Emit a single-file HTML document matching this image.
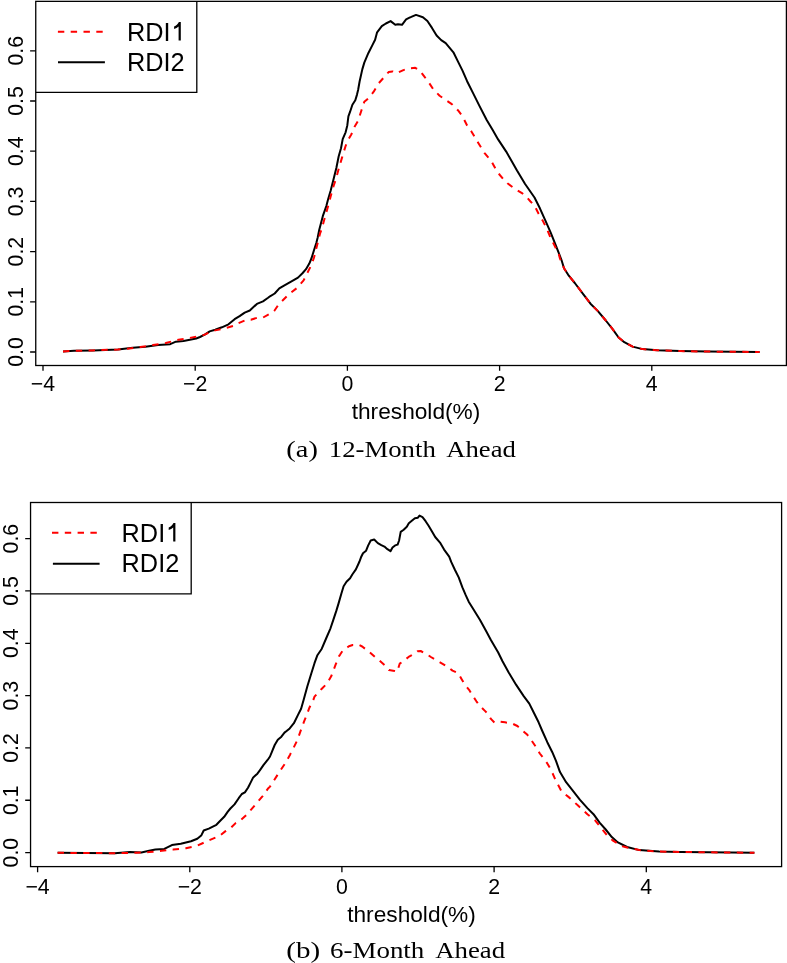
<!DOCTYPE html>
<html><head><meta charset="utf-8"><style>
html,body{margin:0;padding:0;background:#fff;width:787px;height:963px;overflow:hidden}
svg{display:block;will-change:transform}
text{font-family:"Liberation Sans",sans-serif;fill:#000}
.cap{font-family:"Liberation Serif",serif;white-space:pre}
.cb{fill:none;stroke:#000;stroke-width:2;stroke-linejoin:round;stroke-linecap:butt}
.cr{fill:none;stroke:#f00;stroke-width:2;stroke-linejoin:round;stroke-linecap:butt;stroke-dasharray:6.4 6.4}
</style></head><body>
<svg width="787" height="963" viewBox="0 0 787 963">
<!-- Plot 1 -->
<polyline class="cb" points="63.0,351.5 74.1,350.8 93.1,350.4 117.9,349.5 120.0,349.3 132.7,347.8 145.4,346.8 158.1,344.9 170.2,344.2 175.9,341.7 183.5,341.0 196.2,338.5 200.0,337.0 205.1,334.4 209.7,331.4 215.2,329.8 221.9,327.3 228.5,324.3 234.6,319.2 239.6,316.1 244.7,312.6 249.8,310.5 256.9,303.9 263.0,301.4 268.1,297.8 270.0,296.3 274.7,293.5 279.3,288.4 284.0,285.6 291.5,281.4 298.0,277.6 302.7,273.0 306.0,269.2 309.3,263.6 311.6,258.0 313.9,250.5 316.3,243.0 317.7,237.4 319.2,230.0 322.8,216.2 326.4,205.8 327.9,200.0 330.7,190.5 333.6,179.1 336.4,167.7 338.7,156.2 341.0,148.3 342.7,139.1 345.6,132.3 347.3,125.4 348.4,116.3 350.1,111.7 352.4,104.8 355.3,100.3 357.0,94.6 358.1,90.0 359.6,81.5 362.3,69.4 364.3,62.6 368.3,53.2 372.4,45.1 375.1,39.7 377.1,32.3 381.8,26.2 385.9,23.5 390.6,21.1 395.3,24.8 398.0,24.2 402.0,24.8 406.1,19.4 410.0,17.4 410.7,17.2 416.0,14.9 422.9,17.2 427.4,21.0 432.0,27.9 436.6,35.5 441.2,40.1 445.7,43.1 453.4,52.3 457.9,61.4 462.5,70.6 467.1,81.2 473.2,93.4 479.3,105.6 486.7,120.0 492.7,130.0 498.1,139.4 506.2,151.6 511.6,161.0 517.0,170.5 525.1,184.0 534.5,197.5 539.9,208.3 545.3,220.4 550.7,232.6 556.1,246.1 561.5,260.0 564.0,268.2 568.2,274.8 574.8,283.0 583.0,293.8 590.5,303.7 597.9,311.1 606.2,321.0 612.8,329.3 618.6,337.5 624.3,342.2 632.6,346.6 642.5,349.1 657.4,350.3 680.0,351.1 708.4,351.6 759.6,352.0"/>
<polyline class="cr" points="63.0,351.5 74.1,350.8 93.1,350.4 117.9,349.5 127.6,348.7 140.3,347.0 153.0,345.1 165.7,343.0 178.5,339.8 189.9,337.9 200.0,336.0 204.1,334.9 210.2,331.9 215.2,330.4 224.4,328.3 228.5,327.3 235.6,325.3 238.6,323.2 246.8,319.7 250.8,319.7 257.9,317.6 263.0,317.6 269.1,314.1 274.2,311.0 278.4,304.7 282.1,301.0 288.7,294.4 297.1,287.9 303.6,280.4 306.9,273.9 311.1,265.5 313.9,258.0 315.8,250.5 318.1,241.2 320.0,233.7 321.8,228.7 324.9,217.3 328.5,204.8 330.7,196.2 333.6,185.9 335.9,179.1 338.7,168.8 342.1,157.4 345.6,146.0 347.9,140.3 351.3,134.5 354.7,126.5 358.1,120.8 361.0,111.7 364.3,101.8 368.3,98.4 373.7,91.7 378.4,83.6 383.2,78.2 388.6,72.1 392.6,71.4 396.6,73.2 403.4,70.1 409.1,68.3 415.2,67.8 419.8,70.6 424.4,76.7 429.0,82.8 433.5,89.6 439.6,95.7 447.3,101.1 451.8,104.1 457.9,110.2 462.5,116.3 467.1,125.5 471.4,131.4 478.3,142.9 484.4,152.8 491.3,161.0 495.4,168.5 499.4,174.5 503.5,179.3 507.5,183.3 512.9,187.4 517.0,190.1 522.4,193.4 526.4,196.8 530.5,201.5 534.5,205.6 538.6,213.7 542.6,220.4 546.7,228.5 550.7,238.0 554.8,246.1 558.8,254.2 559.9,258.3 564.0,268.2 568.2,274.8 574.8,283.0 583.0,293.8 590.5,303.7 597.9,311.1 606.2,321.0 612.8,329.3 618.6,337.5 624.3,342.2 632.6,346.6 642.5,349.1 657.4,350.3 680.0,351.1 708.4,351.6 759.6,352.0"/>
<g fill="none" stroke="#000" stroke-width="1.3">
<rect x="35.75" y="1.35" width="750.65" height="364.15"/>
<path d="M43 365.5V370.8M195.2 365.5V370.8M347.4 365.5V370.8M499.6 365.5V370.8M651.8 365.5V370.8"/>
<path d="M30.1 352H35.75M30.1 301.8H35.75M30.1 251.6H35.75M30.1 201.4H35.75M30.1 151.2H35.75M30.1 101H35.75M30.1 50.8H35.75"/>
<path d="M35.75 92.3H196.8V1.35"/>
</g>
<g font-size="21.3" text-anchor="middle">
<text x="43" y="390.9">−4</text>
<text x="195.2" y="390.9">−2</text>
<text x="347.4" y="390.9">0</text>
<text x="499.6" y="390.9">2</text>
<text x="651.8" y="390.9">4</text>
<text x="416" y="418.8" font-size="22.7">threshold(%)</text>
</g>
<g font-size="21.3" text-anchor="middle">
<text transform="translate(23.4,352) rotate(-90)">0.0</text>
<text transform="translate(23.4,301.8) rotate(-90)">0.1</text>
<text transform="translate(23.4,251.6) rotate(-90)">0.2</text>
<text transform="translate(23.4,201.4) rotate(-90)">0.3</text>
<text transform="translate(23.4,151.2) rotate(-90)">0.4</text>
<text transform="translate(23.4,101) rotate(-90)">0.5</text>
<text transform="translate(23.4,50.8) rotate(-90)">0.6</text>
</g>
<path d="M57.9 31.7H104" class="cr"/>
<path d="M58 62.2H104.9" class="cb"/>
<text x="127" y="40.7" font-size="25.3">RDI</text>
<path id="one" d="M180.8 22.1V40.6H178.6V26.4C177.4 27.6 175.9 28.4 174.1 29V26.6C176.3 25.8 177.7 24.3 178.9 22.1Z"/>
<text x="127" y="70.7" font-size="25.3">RDI2</text>
<g class="cap" font-size="22.5">
<text class="cap" x="286.35" y="456.8" textLength="31.5" lengthAdjust="spacingAndGlyphs">(a)</text>
<text class="cap" x="328.75" y="456.8" textLength="107" lengthAdjust="spacingAndGlyphs">12-Month</text>
<text class="cap" x="446.24" y="456.8" textLength="69.58" lengthAdjust="spacingAndGlyphs">Ahead</text>
</g>

<!-- Plot 2 -->
<polyline class="cb" points="57.6,852.8 114.8,853.2 130.0,852.1 141.4,852.4 149.1,850.8 155.4,849.6 164.3,848.9 171.9,845.1 180.8,843.8 191.0,841.3 197.3,838.8 201.2,835.6 203.7,830.5 208.8,828.6 216.4,824.8 220.0,821.0 224.2,816.8 227.8,811.7 230.4,808.5 234.5,804.4 238.7,798.2 241.8,794.0 244.9,792.4 248.0,787.8 250.6,782.6 253.2,777.4 257.4,773.7 260.0,770.1 263.6,764.9 267.8,759.7 270.0,756.5 272.1,751.3 274.7,745.0 277.8,739.8 281.4,736.7 284.5,732.6 286.6,731.0 289.7,728.4 293.9,723.2 298.0,714.9 301.1,708.7 303.6,700.0 307.3,686.5 310.9,674.8 314.5,663.2 317.4,655.2 321.8,648.7 326.1,638.5 330.5,628.3 333.4,619.6 336.3,610.9 338.5,603.6 341.4,593.4 343.6,586.2 346.5,581.8 350.1,578.2 352.3,574.5 355.9,569.4 359.5,561.5 361.0,557.3 363.0,553.2 366.1,550.7 368.1,545.6 370.7,540.5 374.2,539.5 377.8,543.1 381.3,545.1 384.4,546.6 387.4,549.2 390.5,551.2 392.5,547.6 395.1,545.4 397.6,544.6 399.1,540.5 400.7,531.9 403.7,529.8 406.8,526.8 408.8,523.2 411.8,520.7 414.9,518.2 417.9,517.7 419.5,515.6 422.5,517.1 425.6,521.2 428.6,525.8 431.7,530.9 435.2,537.0 440.0,542.6 444.1,549.6 449.2,556.6 451.2,561.9 455.0,570.0 458.7,577.4 462.4,587.4 465.6,594.9 468.7,601.7 473.7,609.8 479.9,619.8 486.1,631.0 490.9,640.0 498.2,652.5 502.5,661.2 508.7,672.5 516.2,684.9 523.7,696.1 529.3,703.6 533.6,712.3 538.6,722.3 542.3,731.0 547.3,742.2 552.3,752.2 556.0,760.9 560.0,772.1 566.1,782.2 572.2,789.8 579.8,799.7 587.4,808.1 593.5,814.2 599.6,822.6 605.7,829.5 611.8,837.1 617.9,842.4 627.1,847.0 639.3,850.1 659.1,851.6 680.0,851.9 708.4,852.3 754.4,852.8"/>
<polyline class="cr" points="57.6,852.8 114.8,853.2 136.4,852.7 149.1,852.1 161.8,850.8 173.2,849.6 185.9,848.3 197.3,845.7 208.8,840.4 218.9,836.2 220.0,835.5 225.2,831.4 230.4,828.3 235.6,823.1 240.8,820.0 246.5,814.8 251.1,809.6 257.4,802.3 262.6,796.1 267.8,788.8 270.0,786.6 274.1,780.3 279.3,772.0 285.6,762.7 290.2,754.4 293.9,747.1 297.5,739.8 301.1,729.5 304.2,721.2 306.8,714.9 309.4,707.7 313.6,699.3 314.5,696.6 321.8,688.7 326.9,683.6 331.2,676.3 335.6,664.7 339.2,655.9 340.0,654.8 342.5,651.0 348.9,646.3 352.7,645.0 359.1,645.0 362.2,646.5 368.0,651.0 371.1,653.5 376.8,658.6 380.0,661.1 385.7,666.2 388.9,670.0 394.6,670.9 397.2,671.7 399.7,663.7 403.5,661.1 408.6,656.9 411.8,655.2 417.5,651.3 420.7,651.0 427.7,654.8 430.9,657.0 436.6,660.5 440.0,662.3 447.3,666.5 452.5,670.6 458.2,673.2 461.8,679.5 464.9,684.7 469.1,689.8 472.2,695.0 476.4,701.3 479.5,705.4 484.7,710.6 487.8,713.7 490.9,718.9 494.5,722.6 500.0,721.7 505.0,722.3 512.4,723.6 517.4,726.0 522.4,730.4 527.4,734.8 531.1,739.8 536.1,747.2 539.8,753.5 543.6,758.4 547.3,763.4 551.0,769.7 554.8,778.4 556.7,782.2 561.5,791.3 569.1,797.4 578.3,805.8 587.4,814.2 595.1,820.3 601.2,827.9 607.3,835.6 613.4,840.9 622.5,846.2 627.1,847.5 639.3,850.1 659.1,851.6 680.0,851.9 708.4,852.3 754.4,852.8"/>
<g fill="none" stroke="#000" stroke-width="1.3">
<rect x="30.55" y="502.5" width="751.05" height="364.1"/>
<path d="M37.6 866.6V872.3M189.8 866.6V872.3M341.9 866.6V872.3M494.1 866.6V872.3M646.3 866.6V872.3"/>
<path d="M25.2 852.60H30.55M25.2 800.27H30.55M25.2 747.94H30.55M25.2 695.61H30.55M25.2 643.28H30.55M25.2 590.95H30.55M25.2 538.62H30.55"/>
<path d="M30.55 593.8H191.2V502.5"/>
</g>
<g font-size="21.3" text-anchor="middle">
<text x="37.6" y="893.6">−4</text>
<text x="189.8" y="893.6">−2</text>
<text x="341.9" y="893.6">0</text>
<text x="494.1" y="893.6">2</text>
<text x="646.3" y="893.6">4</text>
<text x="411.5" y="922" font-size="22.7">threshold(%)</text>
</g>
<g font-size="21.3" text-anchor="middle">
<text transform="translate(18.3,852.60) rotate(-90)">0.0</text>
<text transform="translate(18.3,800.27) rotate(-90)">0.1</text>
<text transform="translate(18.3,747.94) rotate(-90)">0.2</text>
<text transform="translate(18.3,695.61) rotate(-90)">0.3</text>
<text transform="translate(18.3,643.28) rotate(-90)">0.4</text>
<text transform="translate(18.3,590.95) rotate(-90)">0.5</text>
<text transform="translate(18.3,538.62) rotate(-90)">0.6</text>
</g>
<path d="M52 532.7H98" class="cr"/>
<path d="M52.9 563.7H99.6" class="cb"/>
<text x="121.6" y="541.7" font-size="25.3">RDI</text>
<use href="#one" transform="translate(-5.4,501)"/>
<text x="121.6" y="571.6" font-size="25.3">RDI2</text>
<g class="cap" font-size="22.5">
<text class="cap" x="286.32" y="957.8" textLength="33.95" lengthAdjust="spacingAndGlyphs">(b)</text>
<text class="cap" x="330.04" y="957.8" textLength="94.3" lengthAdjust="spacingAndGlyphs">6-Month</text>
<text class="cap" x="435.24" y="957.8" textLength="69.9" lengthAdjust="spacingAndGlyphs">Ahead</text>
</g>
</svg>
</body></html>
